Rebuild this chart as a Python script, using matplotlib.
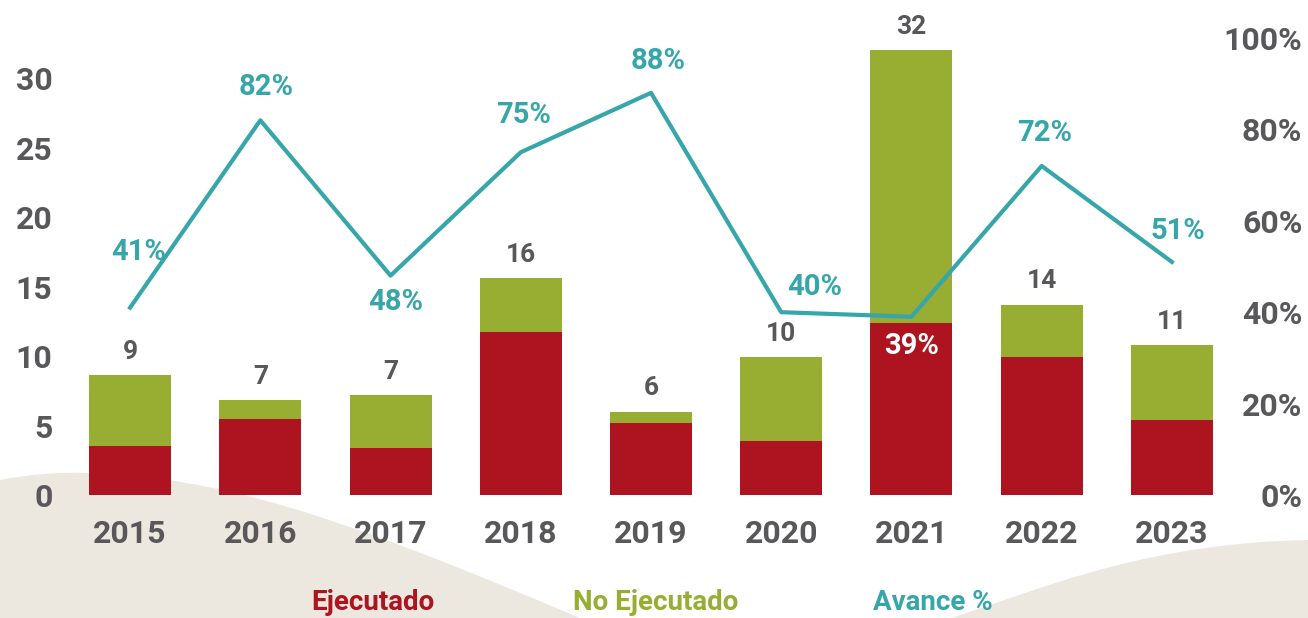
import matplotlib.pyplot as plt
from matplotlib.path import Path
from matplotlib.patches import PathPatch

# values
years = ["2015", "2016", "2017", "2018", "2019", "2020", "2021", "2022", "2023"]
ejecutado = [3.5, 5.5, 3.4, 11.7, 5.2, 3.9, 12.4, 9.9, 5.4]
no_ejecutado = [5.1, 1.3, 3.8, 3.9, 0.8, 6.0, 19.6, 3.8, 5.4]
total_labels = ["9", "7", "7", "16", "6", "10", "32", "14", "11"]
avance = [0.41, 0.82, 0.48, 0.75, 0.88, 0.40, 0.39, 0.72, 0.51]

RED = "#ad141f"
GREEN = "#98ae32"
TEAL = "#37a6aa"
GRAY = "#58585a"
BG = "#ece8df"

plt.rcParams["font.family"] = ["Roboto", "DejaVu Sans"]
plt.rcParams["font.weight"] = "bold"

W, H = 1308, 618
fig = plt.figure(figsize=(W / 100, H / 100), dpi=100)

# beige wave shapes at the bottom (pixel coords -> figure fraction)
def px(x, y):
    return (x / W, 1 - y / H)

left_wave = [px(0, 618), px(0, 480), px(30, 474), px(60, 472), px(90, 473),
             px(220, 478), px(330, 512), px(580, 618), px(0, 618)]
left_codes = [Path.MOVETO, Path.LINETO, Path.CURVE4, Path.CURVE4, Path.CURVE4,
              Path.CURVE4, Path.CURVE4, Path.CURVE4, Path.CLOSEPOLY]
right_wave = [px(952, 618), px(1050, 585), px(1150, 543), px(1308, 540),
              px(1308, 618), px(952, 618)]
right_codes = [Path.MOVETO, Path.CURVE4, Path.CURVE4, Path.CURVE4,
               Path.LINETO, Path.CLOSEPOLY]
for verts, codes in [(left_wave, left_codes), (right_wave, right_codes)]:
    fig.patches.append(PathPatch(Path(verts, codes), facecolor=BG, edgecolor="none",
                                 transform=fig.transFigure, zorder=-5))

ax = fig.add_axes([65 / W, 123 / H, (1237 - 65) / W, 457 / H])
ax.set_zorder(1)
ax.patch.set_alpha(0)
x = list(range(len(years)))
width = 0.63

ax.bar(x, ejecutado, width, color=RED, zorder=2)
ax.bar(x, no_ejecutado, width, bottom=ejecutado, color=GREEN, zorder=2)
ax.set_xlim(-0.5, len(years) - 0.5)
ax.set_ylim(0, 32.88)
ax.set_yticks([0, 5, 10, 15, 20, 25, 30])
ax.set_xticks(x)
ax.set_xticklabels(years)
ax.tick_params(axis="y", length=0, pad=9, labelsize=23, labelcolor=GRAY)
ax.tick_params(axis="x", length=0, pad=17, labelsize=23, labelcolor=GRAY)
for s in ax.spines.values():
    s.set_visible(False)

for i in x:
    top = ejecutado[i] + no_ejecutado[i]
    ax.annotate(total_labels[i], (i, top), xytext=(0, 8), textcoords="offset points",
                ha="center", va="bottom", fontsize=19, color=GRAY, annotation_clip=False)

ax2 = ax.twinx()
ax2.set_zorder(2)
ax2.patch.set_alpha(0)
ax2.set_ylim(0, 1)
ax2.set_yticks([0, 0.2, 0.4, 0.6, 0.8, 1.0])
ax2.set_yticklabels(["0%", "20%", "40%", "60%", "80%", "100%"])
ax2.tick_params(axis="y", length=0, pad=47, labelsize=23, labelcolor=GRAY)
for lab in ax2.get_yticklabels():
    lab.set_horizontalalignment("right")
for s in ax2.spines.values():
    s.set_visible(False)

ax2.plot(x, avance, color=TEAL, lw=3, zorder=3)

# label offsets (points) for each percentage
offsets = [(6, 40), (4, 24), (4, -19), (2, 27), (5, 23), (24, 18), (0, -21), (2, 24), (4, 22)]
for i in x:
    color = "white" if i == 6 else TEAL
    ax2.annotate(f"{round(avance[i] * 100)}%", (i, avance[i]), xytext=offsets[i],
                 textcoords="offset points", ha="center", va="center",
                 fontsize=21, color=color, annotation_clip=False, zorder=4)

fig.text(373 / W, 1 - 603 / H, "Ejecutado", color=RED, fontsize=20, ha="center", va="center")
fig.text(656 / W, 1 - 603 / H, "No Ejecutado", color=GREEN, fontsize=20, ha="center", va="center")
fig.text(933 / W, 1 - 603 / H, "Avance %", color=TEAL, fontsize=20, ha="center", va="center")

fig.savefig("out.png", dpi=100)
